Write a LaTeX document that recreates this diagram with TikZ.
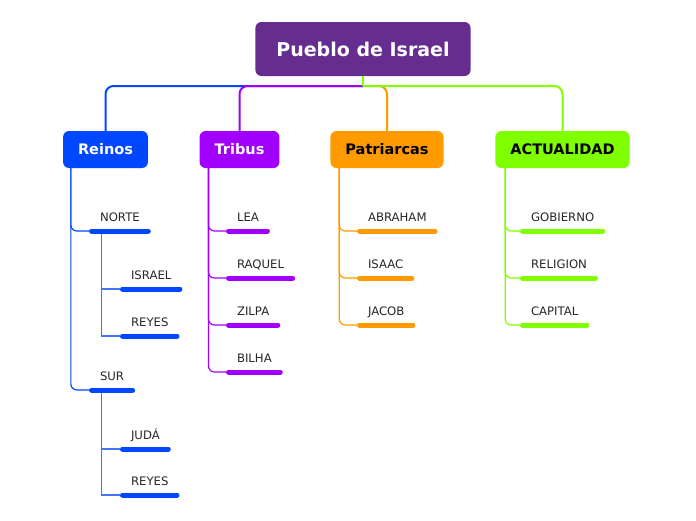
\documentclass[tikz,border=0pt]{standalone}
\usepackage{fontspec}
\setmainfont{DejaVu Sans}
\usetikzlibrary{positioning, calc}

\definecolor{titlec}{HTML}{662D91}
\definecolor{reinosc}{HTML}{0047FF}
\definecolor{tribusc}{HTML}{A100FF}
\definecolor{patric}{HTML}{FF9A00}
\definecolor{actc}{HTML}{80FF00}

\begin{document}
\begin{tikzpicture}[
 x=1pt, y=-1pt,
 title/.style={rectangle, rounded corners=6pt, fill=titlec, text=white, inner xsep=21pt, minimum height=54pt, font=\bfseries\fontsize{19}{22}\selectfont},
 topic/.style={rectangle, rounded corners=6pt, fill=#1, inner xsep=15pt, minimum height=37pt, font=\bfseries\fontsize{14.5}{17}\selectfont},
 leaf/.style={anchor=south west, inner xsep=11pt, inner ysep=0pt, outer sep=0pt, text height=9pt, text depth=10pt, text=black!85, font=\fontsize{11.7}{13}\selectfont},
 bar/.style={draw=#1, line width=5pt, line cap=round, shorten <=2.5pt, shorten >=2.5pt},
 trunk/.style={draw=#1, line width=2pt, rounded corners=8pt},
 twig/.style={draw=#1, line width=1.2pt, rounded corners=6pt},
 subtwig/.style={draw=#1!75, line width=1.2pt}
]
\useasboundingbox (0,0) rectangle (696,520);

% main ideas
\node[title] (pueblo) at (363,49) {Pueblo de Israel};
\coordinate (hub) at (363,86);
\node[topic=reinosc, text=white] (reinos) at (105.5,149.5) {Reinos};
\node[topic=tribusc, text=white] (tribus) at (239.5,149.5) {Tribus};
\node[topic=patric] (patriarcas) at (387,149.5) {Patriarcas};
\node[topic=actc] (actualidad) at (562.5,149.5) {ACTUALIDAD};

\draw[trunk=reinosc] (hub) -| (reinos.north);
\draw[trunk=tribusc] (hub) -| (tribus.north);
\draw[trunk=patric] (hub) -| (patriarcas.north);
\draw[trunk=actc] (hub) -| (actualidad.north);
\draw[trunk=actc] (pueblo.south) -- (hub);

% Reinos
\node[leaf] (norte) at (89,231) {NORTE};
\node[leaf] (israel) at (120,289) {ISRAEL};
\node[leaf] (reyesn) at (120,336) {REYES};
\node[leaf] (sur) at (89,390) {SUR};
\node[leaf] (juda) at (120,449) {JUDÁ};
\node[leaf] (reyess) at (120,495) {REYES};

\draw[twig=reinosc] ([xshift=8pt]reinos.south west) |- (norte.south west);
\draw[twig=reinosc] ([xshift=8pt]reinos.south west) |- (sur.south west);
\draw[subtwig=reinosc] ([xshift=12.5pt]norte.south west) |- (israel.south west);
\draw[subtwig=reinosc] ([xshift=12.5pt]norte.south west) |- (reyesn.south west);
\draw[subtwig=reinosc] ([xshift=12.5pt]sur.south west) |- (juda.south west);
\draw[subtwig=reinosc] ([xshift=12.5pt]sur.south west) |- (reyess.south west);

% Tribus
\node[leaf] (lea) at (226,231) {LEA};
\node[leaf] (raquel) at (226,278) {RAQUEL};
\node[leaf] (zilpa) at (226,325) {ZILPA};
\node[leaf] (bilha) at (226,372) {BILHA};

% Patriarcas
\node[leaf] (abraham) at (357,231) {ABRAHAM};
\node[leaf] (isaac) at (357,278) {ISAAC};
\node[leaf] (jacob) at (357,325) {JACOB};

% Actualidad
\node[leaf] (gobierno) at (520,231) {GOBIERNO};
\node[leaf] (religion) at (520,278) {RELIGION};
\node[leaf] (capital) at (520,325) {CAPITAL};

\foreach \n in {lea, raquel, zilpa, bilha}
  \draw[twig=tribusc] ([xshift=9pt]tribus.south west) |- (\n.south west);
\foreach \n in {abraham, isaac, jacob}
  \draw[twig=patric] ([xshift=9pt]patriarcas.south west) |- (\n.south west);
\foreach \n in {gobierno, religion, capital}
  \draw[twig=actc] ([xshift=10pt]actualidad.south west) |- (\n.south west);

% underline bars
\foreach \n in {norte, israel, reyesn, sur, juda, reyess}
  \draw[bar=reinosc] (\n.south west) -- (\n.south east);
\foreach \n in {lea, raquel, zilpa, bilha}
  \draw[bar=tribusc] (\n.south west) -- (\n.south east);
\foreach \n in {abraham, isaac, jacob}
  \draw[bar=patric] (\n.south west) -- (\n.south east);
\foreach \n in {gobierno, religion, capital}
  \draw[bar=actc] (\n.south west) -- (\n.south east);
\end{tikzpicture}
\end{document}
